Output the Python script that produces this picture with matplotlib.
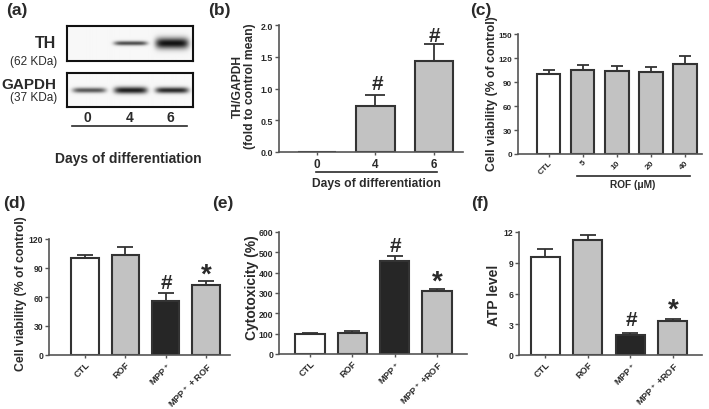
import numpy as np
import matplotlib
matplotlib.use('Agg')
import matplotlib.pyplot as plt
from matplotlib.lines import Line2D

plt.rcParams['font.family'] = ['Liberation Sans', 'DejaVu Sans']
plt.rcParams['font.weight'] = 'bold'
plt.rcParams['mathtext.default'] = 'regular'

# ---------------- data ----------------
blot_lanes = ['0', '4', '6']
th_band = [0.0, 0.75, 1.0]
th_thick = [0.0, 2.2, 5.5]
gapdh_band = [0.7, 0.95, 0.9]
gapdh_thick = [2.6, 3.4, 3.0]

b_days = ['0', '4', '6']
b_mean = [0.0, 0.72, 1.44]
b_err = [0.0, 0.17, 0.26]

c_labels = ['CTL', '5', '10', '20', '40']
c_mean = [100, 105, 104, 103, 112]
c_err = [5, 6, 6, 6, 11]

d_labels = ['CTL', 'ROF', 'MPP$^+$', 'MPP$^+$ + ROF']
d_mean = [100, 103.5, 56, 72]
d_err = [3, 8, 8.5, 4.5]

e_labels = ['CTL', 'ROF', 'MPP$^+$', 'MPP$^+$ +ROF']
e_mean = [100, 105, 456, 308]
e_err = [5, 8, 28, 12]

f_labels = ['CTL', 'ROF', 'MPP$^+$', 'MPP$^+$ +ROF']
f_mean = [9.55, 11.2, 2.0, 3.3]
f_err = [0.75, 0.55, 0.17, 0.2]

# ---------------- helpers ----------------
W, H = 709, 410
fig = plt.figure(figsize=(W / 100, H / 100), dpi=100)
fig.patch.set_facecolor('white')

TXT = '#2a2a2a'
EDGE = '#333333'
SPINE = '#555555'
GRAY = '#c2c2c2'
DARK = '#262626'
WHITE = '#ffffff'


def rect(l, t, r, b):
    return [l / W, 1 - b / H, (r - l) / W, (b - t) / H]


def ftext(x, y, s, **kw):
    kw.setdefault('color', TXT)
    fig.text(x / W, 1 - y / H, s, **kw)


def fline(x0, x1, y, lw=1.2):
    fig.add_artist(Line2D([x0 / W, x1 / W], [1 - y / H, 1 - y / H],
                          transform=fig.transFigure, color=TXT, lw=lw))


def bar_panel(box, labels, means, errs, colors, width, capsize, xlim, ylim,
              yticks, ytl, tfs=6.2, xfs=6.6, rot=45):
    ax = fig.add_axes(rect(*box))
    x = np.arange(len(means))
    ax.bar(x, means, width=width, color=colors, edgecolor=EDGE, linewidth=1.5, zorder=2)
    m = np.array(errs) > 0
    ax.errorbar(x[m], np.array(means)[m], yerr=[np.zeros(m.sum()), np.array(errs)[m]],
                fmt='none', ecolor=EDGE, elinewidth=1.3, capsize=capsize, capthick=1.3, zorder=1)
    ax.set_xlim(*xlim)
    ax.set_ylim(*ylim)
    ax.set_yticks(yticks)
    ax.set_yticklabels(ytl, fontsize=tfs, fontweight='bold', color=TXT)
    ax.set_xticks(x)
    if rot:
        ax.set_xticklabels(labels, rotation=rot, ha='right', rotation_mode='anchor',
                           fontsize=xfs, fontweight='bold', color=TXT)
    else:
        ax.set_xticklabels(labels, fontsize=xfs, fontweight='bold', color=TXT)
    for s in ['top', 'right']:
        ax.spines[s].set_visible(False)
    for s in ['left', 'bottom']:
        ax.spines[s].set_color(SPINE)
        ax.spines[s].set_linewidth(1.2)
    ax.tick_params(axis='y', direction='out', length=3, width=1, color=SPINE, pad=1.2)
    ax.tick_params(axis='x', direction='out', length=2.5, width=1, color=SPINE,
                   pad=0.8 if rot else 1.5)
    ax.patch.set_alpha(0)
    return ax


# ---------------- panel (a): western blot ----------------
def blot(box, inten, thick, ycen):
    ax = fig.add_axes(rect(*box))
    l, t, r, b = box
    xs = np.arange(l, r, 0.5)
    ys = np.arange(t, b, 0.5)
    X, Y = np.meshgrid(xs, ys)
    img = np.full(X.shape, 0.97)
    centers = [89, 130, 171]
    for c, a, th in zip(centers, inten, thick):
        if a <= 0:
            continue
        px = np.exp(-((X - c) / 16.5) ** 6)
        py = np.exp(-((Y - ycen) / th) ** 2)
        img -= 0.9 * a * px * py
    img = np.clip(img, 0, 1)
    ax.imshow(img, cmap='gray', vmin=0, vmax=1, extent=[l, r, b, t], aspect='auto',
              interpolation='bilinear')
    ax.set_xticks([])
    ax.set_yticks([])
    for s in ax.spines.values():
        s.set_linewidth(1.5)
        s.set_color('#111111')
    return ax


blot((67, 27, 193, 62), th_band, th_thick, 44)
blot((67, 74, 193, 108), gapdh_band, gapdh_thick, 91)
ftext(56, 44, 'TH', fontsize=11.5, ha='right', va='center', fontweight='bold')
ftext(57, 62, '(62 KDa)', fontsize=8.5, ha='right', va='center', fontweight='normal')
ftext(56, 85, 'GAPDH', fontsize=11, ha='right', va='center', fontweight='bold')
ftext(57, 98, '(37 KDa)', fontsize=8.5, ha='right', va='center', fontweight='normal')
for xc, lab in zip([87, 130, 170], blot_lanes):
    ftext(xc, 118, lab, fontsize=10, ha='center', va='center', fontweight='bold')
fline(72, 187, 127)
ftext(128, 159, 'Days of differentiation', fontsize=10, ha='center', va='center')

# ---------------- panel (b) ----------------
bar_panel((279, 26, 463, 153), b_days, b_mean, b_err, [GRAY] * 3, 0.66, 7,
          (-0.65, 2.5), (0, 2.0), [0, 0.5, 1.0, 1.5, 2.0],
          ['0.0', '0.5', '1.0', '1.5', '2.0'], tfs=6.4, xfs=8.5, rot=0)
fline(316, 437, 173)
ftext(376, 184, 'Days of differentiation', fontsize=8.7, ha='center', va='center')
ftext(244, 86, 'TH/GAPDH\n(fold to control mean)', fontsize=8.7, rotation=90,
      ha='center', va='center', multialignment='center', linespacing=1.0)
for xi, yv in zip([377, 434], [84, 36]):
    ftext(xi, yv, '#', fontsize=15, ha='center', va='center')

# ---------------- panel (c) ----------------
bar_panel((518, 35, 702, 155), c_labels, c_mean, c_err, [WHITE] + [GRAY] * 4, 0.69, 4.5,
          (-0.9, 4.5), (0, 150), [0, 30, 60, 90, 120, 150],
          ['0', '30', '60', '90', '120', '150'], tfs=5.9, xfs=6.0)
fline(577, 690, 177)
ftext(633, 185, 'ROF (\u03bcM)', fontsize=7.3, ha='center', va='center')
ftext(492, 94, 'Cell viability (% of control)', fontsize=8.8, rotation=90,
      ha='center', va='center')

# ---------------- panel (d) ----------------
bar_panel((49, 240, 230, 356), d_labels, d_mean, d_err, [WHITE, GRAY, DARK, GRAY], 0.68, 6,
          (-0.89, 3.59), (0, 120), [0, 30, 60, 90, 120],
          ['0', '30', '60', '90', '120'])
ftext(21, 294, 'Cell viability (% of control)', fontsize=8.8, rotation=90,
      ha='center', va='center')
ftext(166, 284, '#', fontsize=15, ha='center', va='center')
ftext(206, 276, '*', fontsize=20, ha='center', va='center')

# ---------------- panel (e) ----------------
bar_panel((279, 233, 467, 355), e_labels, e_mean, e_err, [WHITE, GRAY, DARK, GRAY], 0.69, 6,
          (-0.73, 3.71), (0, 600), [0, 100, 200, 300, 400, 500, 600],
          ['0', '100', '200', '300', '400', '500', '600'])
ftext(252, 288, 'Cytotoxicity (%)', fontsize=10, rotation=90, ha='center', va='center')
ftext(395, 247, '#', fontsize=15, ha='center', va='center')
ftext(437, 283, '*', fontsize=20, ha='center', va='center')

# ---------------- panel (f) ----------------
bar_panel((519, 233, 702, 356), f_labels, f_mean, f_err, [WHITE, GRAY, DARK, GRAY], 0.68, 6,
          (-0.61, 3.68), (0, 12), [0, 3, 6, 9, 12],
          ['0', '3', '6', '9', '12'])
ftext(494, 295, 'ATP level', fontsize=10, rotation=90, ha='center', va='center')
ftext(631, 321, '#', fontsize=15, ha='center', va='center')
ftext(673, 311, '*', fontsize=20, ha='center', va='center')

# ---------------- panel letters ----------------
for xl, yt, lab in [(6, 3, '(a)'), (208, 3, '(b)'), (470, 3, '(c)'),
                    (3, 196, '(d)'), (212, 196, '(e)'), (471, 196, '(f)')]:
    ftext(xl, yt, lab, fontsize=12.5, ha='left', va='top', fontweight='bold')

fig.savefig('out.png', dpi=100, facecolor='white')
